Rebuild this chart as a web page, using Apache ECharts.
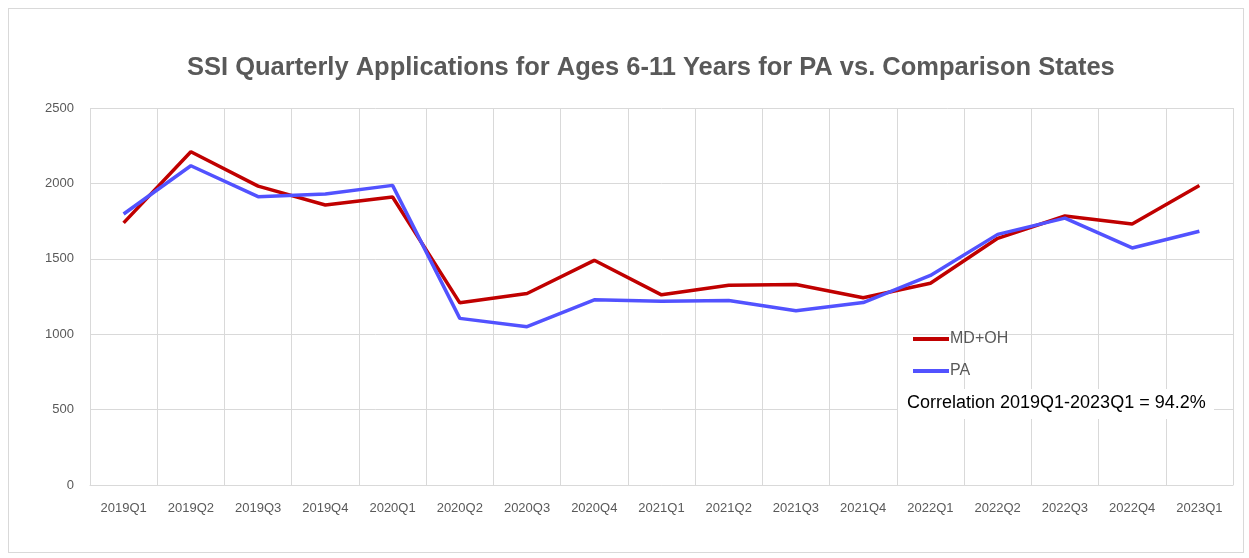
<!DOCTYPE html>
<html>
<head>
<meta charset="utf-8">
<script src="https://cdn.jsdelivr.net/npm/echarts@6/dist/echarts.min.js"></script>
<style>
  html, body { margin: 0; padding: 0; background: #fff; }
  #wrap { position: absolute; left: 8px; top: 8px; width: 1236px; height: 545px; border: 1px solid #d9d9d9; box-sizing: border-box; }
  #chart { position: absolute; left: 0; top: 0; width: 1249px; height: 558px; }
</style>
</head>
<body>
<div id="wrap"></div>
<div id="chart"></div>
<script>
const quarters = ['2019Q1', '2019Q2', '2019Q3', '2019Q4', '2020Q1', '2020Q2', '2020Q3', '2020Q4',
  '2021Q1', '2021Q2', '2021Q3', '2021Q4', '2022Q1', '2022Q2', '2022Q3', '2022Q4', '2023Q1']
const mdOh = [1738, 2210, 1982, 1857, 1910, 1208, 1270, 1490, 1261, 1325, 1329, 1242, 1338, 1636, 1784, 1731, 1986]
const pa = [1797, 2117, 1912, 1929, 1987, 1105, 1050, 1228, 1219, 1224, 1156, 1210, 1390, 1662, 1770, 1572, 1683]
const seriesNames = ['MD+OH', 'PA']
const corrText = 'Correlation 2019Q1-2023Q1 = 94.2%'

const grey = '#595959'
const chart = echarts.init(document.getElementById('chart'))
chart.setOption({
  animation: false,
  title: {
    text: 'SSI Quarterly Applications for Ages 6-11 Years for PA vs. Comparison States',
    left: 182,
    top: 50,
    textStyle: { fontFamily: 'Liberation Sans, sans-serif', fontSize: 25.5, fontWeight: 'bold', color: grey }
  },
  grid: { left: 90, right: 16, top: 108, bottom: 73 },
  legend: {
    orient: 'vertical',
    left: 908,
    top: 326,
    itemGap: 16,
    itemWidth: 36,
    itemHeight: 4,
    icon: 'rect',
    data: seriesNames,
    textStyle: { color: grey, fontSize: 16, fontFamily: 'Liberation Sans, sans-serif', padding: [0, 0, 0, -4] }
  },
  xAxis: {
    type: 'category',
    data: quarters,
    boundaryGap: true,
    axisLine: { lineStyle: { color: '#d9d9d9' } },
    axisTick: { show: false },
    axisLabel: { color: grey, fontSize: 13, margin: 17, fontFamily: 'Liberation Sans, sans-serif' },
    splitLine: { show: true, lineStyle: { color: '#d9d9d9', width: 1 } }
  },
  yAxis: {
    type: 'value',
    min: 0,
    max: 2500,
    interval: 500,
    axisLine: { show: false },
    axisTick: { show: false },
    axisLabel: { color: grey, fontSize: 13, margin: 16, fontFamily: 'Liberation Sans, sans-serif', formatter: v => String(v) },
    splitLine: { lineStyle: { color: '#d9d9d9', width: 1 } }
  },
  series: [
    {
      name: seriesNames[0], type: 'line', data: mdOh, symbol: 'none',
      lineStyle: { color: '#c00000', width: 3.5 }, itemStyle: { color: '#c00000' }
    },
    {
      name: seriesNames[1], type: 'line', data: pa, symbol: 'none',
      lineStyle: { color: '#5252ff', width: 3.5 }, itemStyle: { color: '#5252ff' }
    }
  ],
  graphic: [
    {
      type: 'rect', left: 898, top: 389, shape: { width: 316, height: 30 },
      style: { fill: '#fff' }, z: 10
    },
    {
      type: 'text', left: 907, top: 394, z: 11,
      style: { text: corrText, fill: '#000', fontSize: 18, fontFamily: 'Liberation Sans, sans-serif' }
    }
  ]
})
</script>
</body>
</html>
